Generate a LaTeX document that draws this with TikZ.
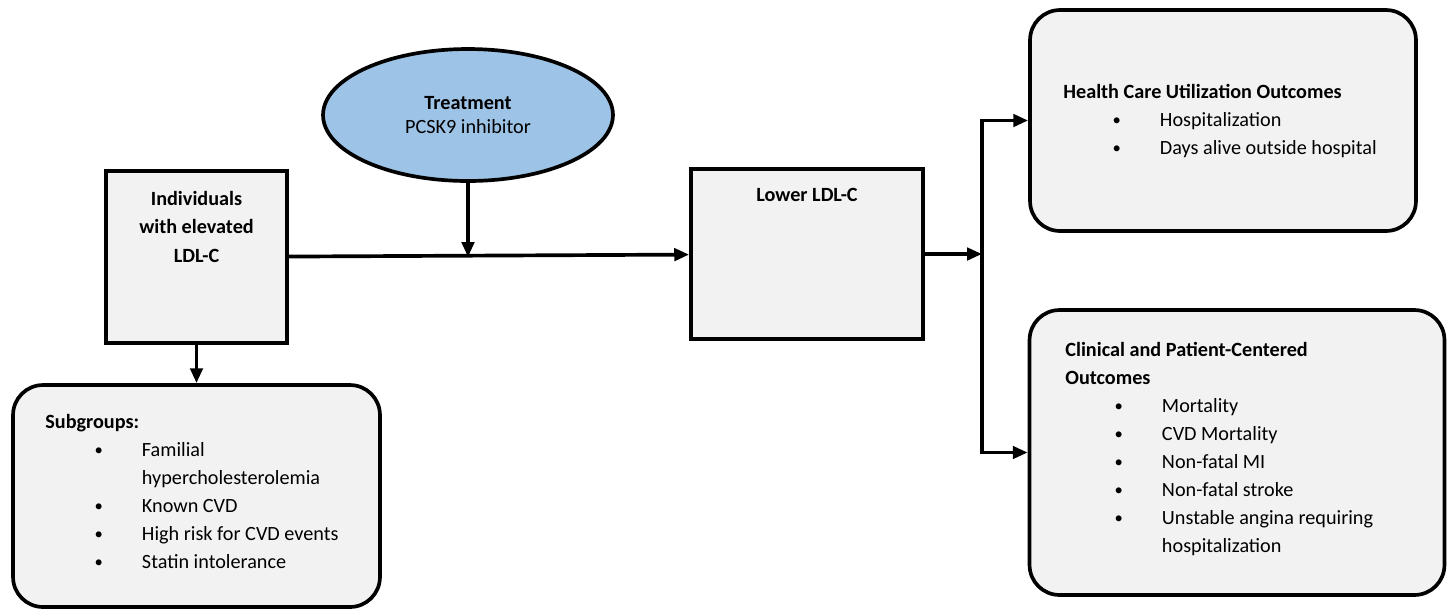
\documentclass[tikz,border=0pt]{standalone}
\usepackage{fontspec}
\setmainfont{Carlito}
\usetikzlibrary{positioning, arrows.meta, shapes.geometric}
\definecolor{boxgray}{HTML}{F2F2F2}
\definecolor{treatblue}{HTML}{9DC3E6}
\newcommand{\bul}{\makebox[55pt][l]{\hspace*{28pt}\raisebox{0.4pt}{\fontsize{9.5}{9.5}\selectfont\textbullet}}}

\begin{document}
\begin{tikzpicture}[
    x=0.02cm, y=-0.02cm,
    font=\fontsize{11.5}{16}\selectfont,
    box/.style={rectangle, draw, fill=boxgray, line width=2.1pt},
    roundbox/.style={box, rounded corners=0.6cm},
    txt/.style={inner sep=0pt, anchor=base west},
    arr/.style={-{Triangle[length=8.5pt, width=7pt]}, line width=2.1pt},
  ]
    \useasboundingbox (0,0) rectangle (1447,610);

    % boxes
    \node[box, minimum width=3.62cm, minimum height=3.44cm] (ind) at (196.5,257) {};
    \node[roundbox, minimum width=7.34cm, minimum height=4.44cm] (sub) at (196.5,496) {};
    \node[box, minimum width=4.64cm, minimum height=3.4cm] (lower) at (807,254) {};
    \node[roundbox, minimum width=7.72cm, minimum height=4.42cm] (health) at (1223,120.5) {};
    \node[roundbox, minimum width=8.3cm, minimum height=5.7cm] (clin) at (1237,452.5) {};
    \node[ellipse, draw, fill=treatblue, line width=2.1pt, minimum width=5.8cm, minimum height=2.64cm,
          align=center, font=\fontsize{11.5}{14}\selectfont] (treat) at (468,115)
          {\textbf{Treatment}\\PCSK9 inhibitor};

    % texts
    \node[inner sep=0pt, anchor=base] (indtxt) at (196.5,205)
      {\bfseries\begin{tabular}[t]{@{}c@{}}Individuals\\with elevated\\[1pt]LDL-C\end{tabular}};
    \node[inner sep=0pt, anchor=base] (lowtxt) at (807,201) {\textbf{Lower LDL-C}};
    \node[txt] (subtxt) at (45,428)
      {\begin{tabular}[t]{@{}l@{}l@{}}
        \multicolumn{2}{@{}l@{}}{\textbf{Subgroups:}}\\
        \bul & Familial\\
             & hypercholesterolemia\\
        \bul & Known CVD\\
        \bul & High risk for CVD events\\
        \bul & Statin intolerance
      \end{tabular}};
    \node[txt] (healthtxt) at (1063,98)
      {\begin{tabular}[t]{@{}l@{}l@{}}
        \multicolumn{2}{@{}l@{}}{\textbf{Health Care Utilization Outcomes}}\\
        \bul & Hospitalization\\
        \bul & Days alive outside hospital
      \end{tabular}};
    \node[txt] (clintxt) at (1065,356)
      {\begin{tabular}[t]{@{}l@{}l@{}}
        \multicolumn{2}{@{}l@{}}{\textbf{Clinical and Patient-Centered}}\\
        \multicolumn{2}{@{}l@{}}{\textbf{Outcomes}}\\
        \bul & Mortality\\
        \bul & CVD Mortality\\
        \bul & Non-fatal MI\\
        \bul & Non-fatal stroke\\
        \bul & Unstable angina requiring\\
             & hospitalization
      \end{tabular}};

    % connectors
    \coordinate (hit) at (treat.south |- ind.east);
    \coordinate (split) at (982,256);
    \draw[arr] (ind) -- (sub);
    \draw[arr] (treat) -- (hit);
    \draw[arr] (ind) -- (lower);
    \draw[arr] (lower.east) -- (lower.east -| split);
    \draw[arr] (split) |- (health.west);
    \draw[arr] (split) |- (clin.west);
  \end{tikzpicture}
\end{document}
